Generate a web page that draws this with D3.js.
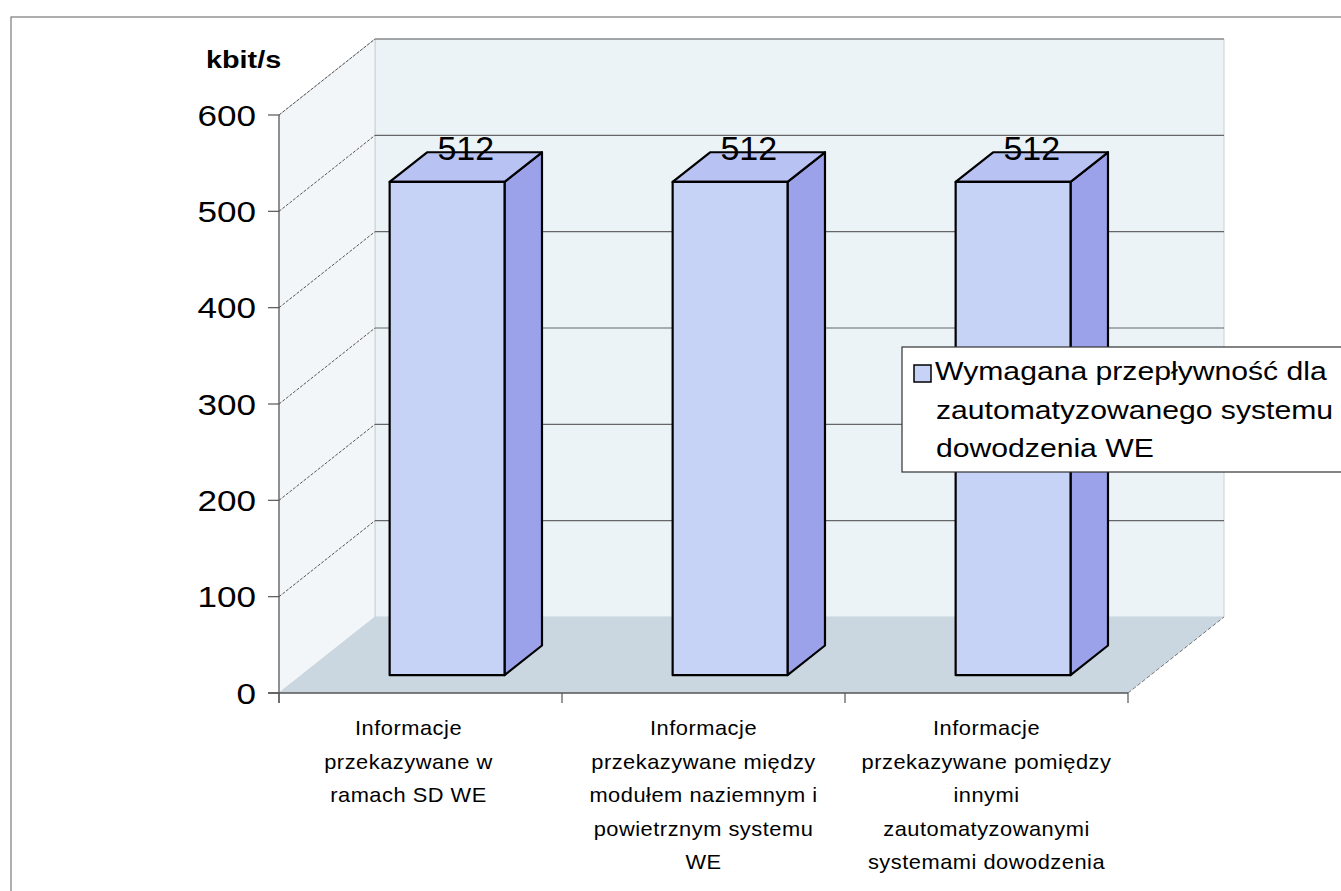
<!DOCTYPE html>
<html>
<head>
<meta charset="utf-8">
<script src="https://cdn.jsdelivr.net/npm/d3@7"></script>
<style>
  html, body { margin: 0; padding: 0; background: #ffffff; }
  svg { display: block; font-family: Arial, "Liberation Sans", sans-serif; }
</style>
</head>
<body>
<svg id="chart" width="1341" height="891"></svg>
<script>
// Category names and their wrapped axis labels
const categories = ["SD WE", "naziemny-powietrzny", "inne systemy"];
const categoryLines = [
  ["Informacje", "przekazywane w", "ramach SD WE"],
  ["Informacje", "przekazywane między", "modułem naziemnym i", "powietrznym systemu", "WE"],
  ["Informacje", "przekazywane pomiędzy", "innymi", "zautomatyzowanymi", "systemami dowodzenia"]
];
// Required throughput (kbit/s) per category
const values = [512, 512, 512];
const yTicks = [0, 100, 200, 300, 400, 500, 600];
const unitLabel = "kbit/s";
const legendLines = ["Wymagana przepływność dla", "zautomatyzowanego systemu", "dowodzenia WE"];

const svg = d3.select("#chart");

// Plot geometry (front plane) and the 3D depth offset of the walls
const front = { left: 279, right: 1128, top: 115, bottom: 693 };
const DX = 96, DY = -76;          // full depth offset of the back wall
const z0 = 0.235, z1 = 0.625;     // bar depth span as fractions of full depth

const y = d3.scaleLinear().domain([0, 600]).range([front.bottom, front.top]);
const x = d3.scaleBand().domain(categories).range([front.left, front.right])
  .paddingInner(0.594).paddingOuter(0.297).align(0.524);
const step = (front.right - front.left) / categories.length;

// Helper: horizontally stretched text
function stretchedText(g, tx, ty, str, opts) {
  const t = g.append("text")
    .attr("transform", `translate(${tx},${ty}) scale(${opts.sx || 1},1)`)
    .attr("text-anchor", opts.anchor || "start")
    .attr("font-size", opts.size)
    .attr("font-weight", opts.weight || "normal")
    .attr("fill", "#000")
    .text(str);
  if (opts.spacing) t.attr("letter-spacing", opts.spacing);
  return t;
}

// Outer chart frame
svg.append("rect")
  .attr("x", 11).attr("y", 17).attr("width", 1340).attr("height", 890)
  .attr("fill", "#fff").attr("stroke", "#7a7a7a").attr("stroke-width", 1.2);

const y0 = y(0), yTop = y(600);

// Back wall
svg.append("polygon")
  .attr("points", [[front.left + DX, yTop + DY], [front.right + DX, yTop + DY],
                   [front.right + DX, y0 + DY], [front.left + DX, y0 + DY]].join(" "))
  .attr("fill", "#ebf3f7").attr("stroke", "#c9d2d8").attr("stroke-width", 1);

// Left side wall
svg.append("polygon")
  .attr("points", [[front.left, yTop], [front.left + DX, yTop + DY],
                   [front.left + DX, y0 + DY], [front.left, y0]].join(" "))
  .attr("fill", "#f3f6f8").attr("stroke", "#c9d2d8").attr("stroke-width", 1);

// Floor
svg.append("polygon")
  .attr("points", [[front.left, y0], [front.right, y0],
                   [front.right + DX, y0 + DY], [front.left + DX, y0 + DY]].join(" "))
  .attr("fill", "#cad7e0");
svg.append("line")
  .attr("x1", front.right).attr("y1", y0)
  .attr("x2", front.right + DX).attr("y2", y0 + DY)
  .attr("stroke", "#777").attr("stroke-width", 1).attr("stroke-dasharray", "4,2");

// Gridlines: back wall horizontals and side wall diagonals
const grid = svg.append("g");
grid.selectAll("line.back").data(yTicks.filter(d => d > 0)).join("line")
  .attr("class", "back")
  .attr("x1", front.left + DX).attr("x2", front.right + DX)
  .attr("y1", d => y(d) + DY).attr("y2", d => y(d) + DY)
  .attr("stroke", "#666").attr("stroke-width", 1.2);
grid.selectAll("line.side").data(yTicks.filter(d => d > 0)).join("line")
  .attr("class", "side")
  .attr("x1", front.left).attr("y1", d => y(d))
  .attr("x2", front.left + DX).attr("y2", d => y(d) + DY)
  .attr("stroke", "#555").attr("stroke-width", 1).attr("stroke-dasharray", "3,1.5");

// Value axis
const yAxis = svg.append("g");
yAxis.append("line")
  .attr("x1", front.left).attr("x2", front.left)
  .attr("y1", yTop).attr("y2", y0 + 10)
  .attr("stroke", "#555").attr("stroke-width", 1.2);
yAxis.selectAll("line.tick").data(yTicks).join("line")
  .attr("class", "tick")
  .attr("x1", front.left - 11).attr("x2", front.left)
  .attr("y1", d => y(d)).attr("y2", d => y(d))
  .attr("stroke", "#555").attr("stroke-width", 1.2);
yTicks.forEach(d => {
  stretchedText(yAxis, front.left - 23, y(d) + 10.5, String(d),
    { anchor: "end", size: 30, sx: 1.17 });
});
stretchedText(svg, 206, 68, unitLabel, { size: 24, weight: "bold", sx: 1.2 });

// Category axis
const xAxis = svg.append("g");
xAxis.append("line")
  .attr("x1", front.left - 11).attr("x2", front.right)
  .attr("y1", y0).attr("y2", y0)
  .attr("stroke", "#555").attr("stroke-width", 1.4);
const bounds = d3.range(categories.length + 1).map(i => front.left + i * step);
xAxis.selectAll("line.tick").data(bounds).join("line")
  .attr("class", "tick")
  .attr("x1", d => d).attr("x2", d => d)
  .attr("y1", y0).attr("y2", y0 + 10)
  .attr("stroke", "#555").attr("stroke-width", 1.2);
categories.forEach((c, i) => {
  const cx = front.left + (i + 0.5) * step - (i === 0 ? 12 : 0);
  categoryLines[i].forEach((line, j) => {
    stretchedText(xAxis, cx, 735 + j * 33.6, line,
      { anchor: "middle", size: 21, sx: 1.04, spacing: 0.5 });
  });
});

// 3D bars
const bars = svg.append("g");
const dDX = (z1 - z0) * DX, dDY = (z1 - z0) * DY;
values.forEach((v, i) => {
  const bx0 = x(categories[i]) + z0 * DX;
  const bx1 = bx0 + x.bandwidth();
  const yb = y(0) + z0 * DY;
  const yt = y(v) + z0 * DY;
  const g = bars.append("g")
    .attr("stroke", "#000").attr("stroke-width", 2.2).attr("stroke-linejoin", "round");
  // side face
  g.append("polygon")
    .attr("points", [[bx1, yt], [bx1 + dDX, yt + dDY], [bx1 + dDX, yb + dDY], [bx1, yb]].join(" "))
    .attr("fill", "#9ba2ea");
  // top face
  g.append("polygon")
    .attr("points", [[bx0, yt], [bx0 + dDX, yt + dDY], [bx1 + dDX, yt + dDY], [bx1, yt]].join(" "))
    .attr("fill", "#b9c3f3");
  // front face
  g.append("rect")
    .attr("x", bx0).attr("y", yt).attr("width", bx1 - bx0).attr("height", yb - yt)
    .attr("fill", "#c6d2f6");
  // value label, centred on the bar's mid depth
  const zm = (z0 + z1) / 2;
  bars.append("text")
    .attr("x", (bx0 + bx1) / 2 + (zm - z0) * DX)
    .attr("y", y(v) + zm * DY - 7)
    .attr("text-anchor", "middle")
    .attr("font-size", 34)
    .attr("fill", "#000")
    .text(v);
});

// Legend
const legend = svg.append("g");
legend.append("rect")
  .attr("x", 902).attr("y", 347).attr("width", 460).attr("height", 125)
  .attr("fill", "#fff").attr("stroke", "#333").attr("stroke-width", 1.2);
legend.append("rect")
  .attr("x", 914).attr("y", 365).attr("width", 17).attr("height", 17)
  .attr("fill", "#c6d2f6").attr("stroke", "#000").attr("stroke-width", 1.5);
legendLines.forEach((line, j) => {
  stretchedText(legend, j === 0 ? 935 : 936, 380 + j * 38.5, line,
    { size: 26, sx: 1.16 });
});
</script>
</body>
</html>
